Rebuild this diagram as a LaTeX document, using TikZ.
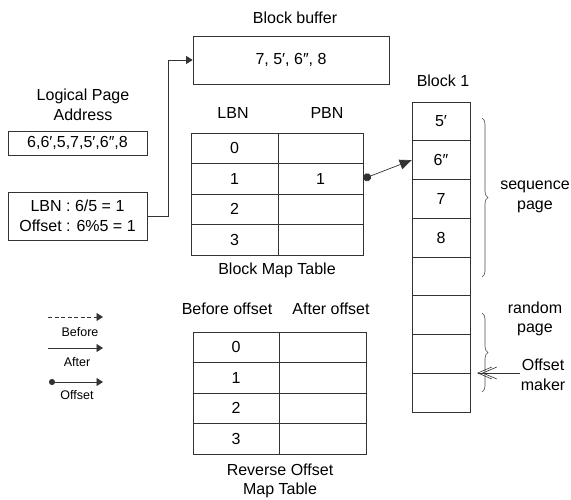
\documentclass[tikz,border=0pt]{standalone}
\usepackage{fontspec}
\setmainfont{Liberation Sans}
\usetikzlibrary{arrows.meta,decorations.pathreplacing}

\tikzset{
  x=1pt, y=-1pt,
  every node/.style={font=\fontsize{16}{19.5}\selectfont, inner sep=1pt},
  ln/.style={draw=black!80, line width=0.7pt},
  box/.style={ln, minimum width=#1, inner sep=0pt},
  cellA/.style={ln, minimum width=87pt, minimum height=30.5pt, inner sep=0pt},
  cellB/.style={ln, minimum width=85pt, minimum height=30.5pt, inner sep=0pt},
  blk/.style={ln, minimum width=58pt, minimum height=38.75pt, inner sep=0pt},
  lbl/.style={align=center},
  small/.style={font=\fontsize{12.5}{14}\selectfont},
  tipS/.style={-{Triangle[length=6.5pt,width=8pt]}},
  dotstart/.style={{Circle[length=6pt]}-{Triangle[length=6.5pt,width=8pt]}},
  mapptr/.style={{Circle[length=8pt]}-{Triangle[length=12pt,width=10pt]}},
  brc/.style={draw=black!70, line width=0.6pt, decorate,
    decoration={brace, amplitude=6pt}},
}

\begin{document}
\begin{tikzpicture}
\useasboundingbox (0,0) rectangle (571,500);

% block buffer
\node at (295,18) {Block buffer};
\node[box=196pt, minimum height=48pt] (buf) at (291,60) {7, 5′, 6″, 8};

% logical page address and the computed LBN / offset
\node[lbl] at (83,105) {Logical Page\\Address};
\node[box=139pt, minimum height=24pt] (lpa) at (77.5,143) {6,6′,5,7,5′,6″,8};
\node[box=139pt, minimum height=48pt, align=center] (lbn) at (77.5,216)
  {LBN : 6/5 = 1\\Offset : 6\%5 = 1};
\draw[ln, tipS] (lbn.east) -- ++(21,0) |- (buf.west);

% block map table
\node at (233,113) {LBN};
\node at (327,113) {PBN};
\foreach \r/\cy in {0/148.25, 1/178.75, 2/209.25, 3/239.75} {
  \node[cellA] (bm\r l) at (234.5,\cy) {\r};
  \node[cellB] (bm\r p) at (320.5,\cy) {};
}
\node at (bm1p) {1};
\node at (277,270) {Block Map Table};

% physical block 1
\node at (443,81) {Block 1};
\foreach \i/\t in {0/5′, 1/6″, 2/7, 3/8, 4/, 5/, 6/, 7/} {
  \node[blk] (b\i) at (441,{121.4+38.75*\i}) {\t};
}
\draw[ln, mapptr] (bm1p.east) -- (b1.west);

% page groups of the block
\draw[brc] (482,118) -- (482,277);
\node[lbl] at (535,197) {sequence\\page};
\draw[brc] (482,313) -- (482,392);
\node[lbl] at (535,319) {random\\page};
\node[lbl] (om) at (543,375) {Offset\\maker};
\coordinate (omtip) at (477,373);
\draw[draw=black!80, line width=0.6pt,
  -{Straight Barb[length=14pt,width=12pt,sep=-10pt]Straight Barb[length=14pt,width=12pt]}]
  (om.west |- omtip) -- (omtip);

% reverse offset map table
\node at (227,309) {Before offset};
\node at (331,309) {After offset};
\foreach \r/\cy in {0/347.25, 1/377.75, 2/408.25, 3/438.75} {
  \node[ln, minimum width=86pt, minimum height=30.5pt, inner sep=0pt] (ro\r l) at (236,\cy) {\r};
  \node[ln, minimum width=87pt, minimum height=30.5pt, inner sep=0pt] (ro\r a) at (322.5,\cy) {};
}
\node[lbl] at (280,481) {Reverse Offset\\Map Table};

% legend
\coordinate (lg1a) at (48,317);  \coordinate (lg1b) at (103,317);
\coordinate (lg2a) at (48,348);  \coordinate (lg2b) at (103,348);
\coordinate (lg3a) at (49,382);  \coordinate (lg3b) at (103,382);
\draw[ln, dash pattern=on 4pt off 2.5pt, tipS] (lg1a) -- (lg1b);
\node[small] at (80,332) {Before};
\draw[ln, tipS] (lg2a) -- (lg2b);
\node[small] at (77,362) {After};
\draw[ln, dotstart] (lg3a) -- (lg3b);
\node[small] at (77,395) {Offset};
\end{tikzpicture}
\end{document}
